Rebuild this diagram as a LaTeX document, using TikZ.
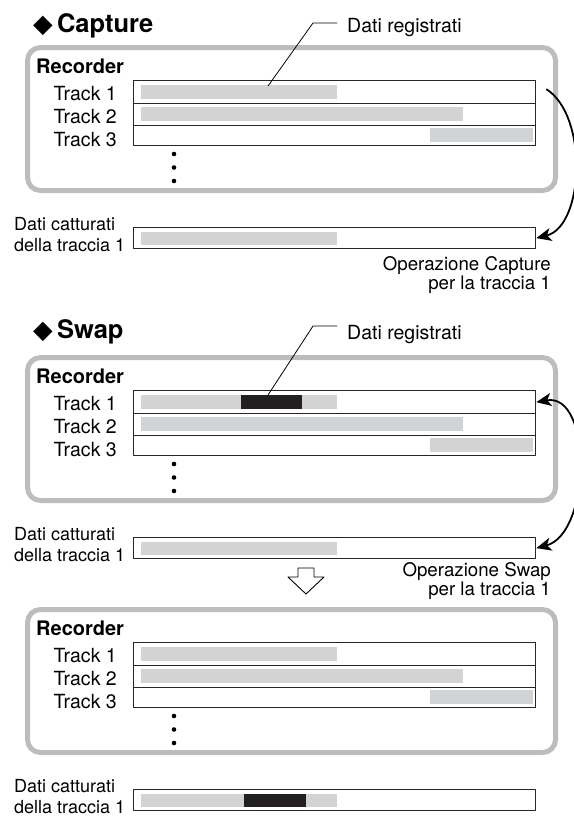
\documentclass[tikz,border=0pt]{standalone}
\usepackage{fontspec}
\setmainfont{TeX Gyre Heros}
\newfontfamily\symbolfont{DejaVu Sans}
\usetikzlibrary{arrows.meta,positioning}

\definecolor{framegray}{RGB}{188,189,190}
\definecolor{bargray}{RGB}{209,211,212}
\definecolor{datablack}{RGB}{35,31,32}

\tikzset{
  recframe/.style={draw=framegray, line width=5pt, rounded corners=13pt},
  trackrow/.style={draw=black!85, line width=1.3pt, inner sep=0pt, minimum width=402pt, anchor=north west},
  rowlabel/.style={anchor=base east, inner sep=0pt, font=\fontsize{19.5}{22}\selectfont},
  plainlabel/.style={anchor=base west, inner sep=0pt, font=\fontsize{19.5}{22}\selectfont},
  capnote/.style={align=left, anchor=base west, inner sep=0pt, font=\fontsize{18}{21}\selectfont},
  opnote/.style={align=right, anchor=base east, inner sep=0pt, font=\fontsize{18.7}{19}\selectfont},
  headline/.style={anchor=base west, inner sep=0pt, font=\fontsize{25.5}{27}\selectfont\bfseries},
  databar/.style={fill=bargray},
  newdata/.style={fill=datablack},
  pointer/.style={line width=0.8pt},
  flowarrow/.style={line width=1.8pt, looseness=0.85},
  optip/.tip={Stealth[length=15pt, width=13pt, inset=4pt]},
}

% one recorder panel plus its captured-data strip
\newcommand{\recpanel}[1]{%
  \draw[recframe] (27.5,47.5) rectangle (555.5,190.5);
  \node[anchor=base west, inner sep=0pt, font=\fontsize{20}{22}\selectfont\bfseries] (#1rec) at (36,73) {Recorder};
  \node[trackrow, minimum height=23pt] (#1t1) at (133,80) {};
  \node[trackrow, minimum height=22pt] (#1t2) at (133,103) {};
  \node[trackrow, minimum height=20pt] (#1t3) at (133,125) {};
  \node[rowlabel] (#1l1) at (117,100) {Track 1};
  \node[rowlabel] (#1l2) at (117,123) {Track 2};
  \node[rowlabel] (#1l3) at (117,146) {Track 3};
  \fill[databar] (141,85) rectangle (337,99);
  \fill[databar] (141,107) rectangle (463,121);
  \fill[databar] (430,128) rectangle (533,142);
  \foreach \y in {154,167.5,181} \fill (174,\y) circle (2.3pt);
  \node[trackrow, minimum height=21pt] (#1cap) at (133,227) {};
  \fill[databar] (141,232) rectangle (337,245);
  \node[capnote] (#1note) at (14,251) {Dati catturati\\della traccia 1};
}

\begin{document}
\begin{tikzpicture}[x=1pt, y=-1pt, line join=round]
  \useasboundingbox (0,0) rectangle (573,819);

  % Capture
  \node[headline] (caphead) at (33,32) {{\symbolfont ◆}\,Capture};
  \recpanel{cap}
  \node[plainlabel] (capreg) at (347,32) {Dati registrati};
  \coordinate (capdata) at (268,86);
  \draw[pointer] ([shift={(-10,-9)}]capreg.base west) -- ++(-24,0) -- (capdata);
  \node[opnote] (capop) at (551,289) {Operazione Capture\\per la traccia 1};

  % Swap
  \node[headline] (swphead) at (33,338) {{\symbolfont ◆}\,Swap};
  \begin{scope}[yshift=-310pt]
    \recpanel{swp}
    \fill[newdata] (241,85) rectangle (302,99);
  \end{scope}
  \node[plainlabel] (swpreg) at (347,339) {Dati registrati};
  \coordinate (swpdata) at (268,395);
  \draw[pointer] ([shift={(-10,-13)}]swpreg.base west) -- ++(-24,0) -- (swpdata);
  \node[opnote] (swpop) at (551,595) {Operazione Swap\\per la traccia 1};

  % result after the swap
  \draw[line width=0.9pt] (298,568) -- (314,568) -- (314,577) -- (324,577) -- (306,594)
    -- (288,577) -- (298,577) -- cycle;
  \begin{scope}[yshift=-562pt]
    \recpanel{res}
    \fill[newdata] (244,232) rectangle (306,245);
  \end{scope}

  % operations
  \draw[flowarrow, -optip]
    ([shift={(10,-3)}]capt1.east) to[out=-32, in=14] (capcap.east);
  \draw[flowarrow, looseness=1.0, optip-optip]
    (swpt1.east) to[out=10, in=15] (swpcap.east);
\end{tikzpicture}
\end{document}
